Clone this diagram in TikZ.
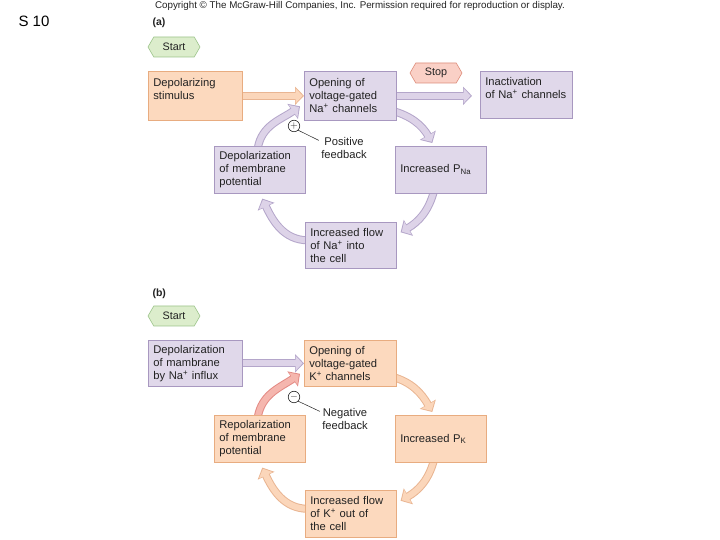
\documentclass[tikz,border=0pt]{standalone}
\usepackage{fontspec}
\setmainfont{Liberation Sans}
\usetikzlibrary{shapes.symbols,arrows.meta,calc}
\definecolor{lavF}{HTML}{E0D8EA}
\definecolor{lavB}{HTML}{A898C0}
\definecolor{peaF}{HTML}{FCD9BE}
\definecolor{peaB}{HTML}{E8AC80}
\definecolor{grnF}{HTML}{DCEDCC}
\definecolor{grnB}{HTML}{9CC48A}
\definecolor{stpF}{HTML}{FAD0C6}
\definecolor{stpB}{HTML}{DD8C7A}
\definecolor{arLF}{HTML}{DDD3E8}
\definecolor{arLB}{HTML}{B4A6CA}
\definecolor{arPF}{HTML}{FBD6BA}
\definecolor{arPB}{HTML}{E9B592}
\definecolor{arRF}{HTML}{F5B6AE}
\definecolor{arRB}{HTML}{E38A84}
\definecolor{txt}{HTML}{222222}
\pgfdeclarelayer{bg}
\pgfsetlayers{bg,main}
\newcommand{\fatarr}[3]{%
  \draw[line width=8pt,#1,-{Triangle[width=18pt,length=9pt]}] #3;
  \draw[line width=6pt,#2,shorten >=1.4pt,-{Triangle[width=14.5pt,length=7pt]}] #3;
}
\tikzset{
  box/.style={draw, line width=0.6pt, anchor=north west, inner xsep=5pt, inner ysep=3pt,
    align=left, font=\fontsize{11.2}{13}\selectfont, text=txt},
  lav/.style={box, fill=lavF, draw=lavB},
  pea/.style={box, fill=peaF, draw=peaB},
  hexa/.style={signal, signal to=east and west, signal pointer angle=120,
    minimum width=52pt, minimum height=20pt, inner sep=0pt,
    font=\fontsize{10.8}{12}\selectfont, text=txt, line width=0.6pt},
  fbsign/.style={circle, draw=txt, line width=0.6pt, inner sep=0pt, minimum size=11.5pt, text=txt},
  fblabel/.style={align=center, font=\fontsize{11.2}{13}\selectfont, text=txt},
  fbline/.style={draw=txt, line width=0.5pt}
}
\begin{document}
\begin{tikzpicture}[x=1pt,y=1pt]
\useasboundingbox (0,0) rectangle (720,540);
% headers
\node[anchor=base west, font=\fontsize{15}{15}\selectfont] (slide) at (15,513) {S 10};
\node[font=\fontsize{9.8}{11}\selectfont, text=txt] (copy) at (360,534) {Copyright © The McGraw-Hill Companies, Inc. Permission required for reproduction or display.};
\node[anchor=base west, font=\fontsize{10.5}{11}\bfseries, text=txt] (la) at (149,514) {(a)};
\node[anchor=base west, font=\fontsize{10.5}{11}\bfseries, text=txt] (lb) at (149,243) {(b)};

% ---------- (a) ----------
\node[hexa, fill=grnF, draw=grnB] (startA) at (174,493) {Start};
\node[pea, text width=84pt, minimum height=49pt] (dep) at (148,469) {Depolarizing\\stimulus\\~};
\node[lav, text width=82pt, minimum height=49pt] (open) at (304,469) {Opening of\\voltage-gated\\Na\textsuperscript{+} channels};
\node[hexa, fill=stpF, draw=stpB] (stop) at (436,467) {Stop};
\node[lav, text width=82pt, inner xsep=5pt, minimum height=47pt] (inact) at (480,469) {Inactivation\\of Na\textsuperscript{+} channels\\~};
\node[lav, text width=81pt, minimum height=47pt] (incp) at (395,394) {Increased P\textsubscript{Na}};
\node[lav, text width=81pt, minimum height=47pt] (depm) at (214,394) {Depolarization\\of membrane\\potential};
\node[lav, text width=81pt, minimum height=46pt] (flow) at (305,318) {Increased flow\\of Na\textsuperscript{+} into\\the cell};
\node[fbsign] (plusA) at (294,414) {$+$};
\node[fblabel] (posA) at (344,391.5) {Positive\\feedback};
\draw[fbline] (plusA.south east) -- ($(posA.north west)+(1,-6)$);

\begin{pgfonlayer}{bg}
\fatarr{arPB}{arPF}{(dep.east) -- (open.west)}
\fatarr{arLB}{arLF}{(open.east) -- ($(inact.west |- open.east)+(-8,0)$)}
\fatarr{arLB}{arLF}{($(open.south east)+(-5,10)$) to[out=-15,in=120] ($(incp.north)+(-8.5,3)$)}
\fatarr{arLB}{arLF}{($(incp.south)+(-7,2)$) to[out=-105,in=30] ($(flow.east)+(4,13)$)}
\fatarr{arLB}{arLF}{($(flow.west)+(3,5)$) to[out=180,in=-65] ($(depm.south)+(2.5,-5)$)}
\fatarr{arLB}{arLF}{($(depm.north)+(-2,-2)$) to[out=80,in=215] ($(open.west)+(-4,-10.5)$)}
\end{pgfonlayer}

% ---------- (b) ----------
\node[hexa, fill=grnF, draw=grnB] (startB) at (174,224) {Start};
\node[lav, text width=84pt, minimum height=46pt] (depB) at (148,200) {Depolarization\\of mambrane\\by Na\textsuperscript{+} influx};
\node[pea, text width=82pt, minimum height=46pt] (openB) at (304,200) {Opening of\\voltage-gated\\K\textsuperscript{+} channels};
\node[pea, text width=81pt, minimum height=47pt] (incpK) at (395,125) {Increased P\textsubscript{K}};
\node[pea, text width=81pt, minimum height=47pt] (repol) at (214,125) {Repolarization\\of membrane\\potential};
\node[pea, text width=81pt, minimum height=47pt] (flowK) at (305,50) {Increased flow\\of K\textsuperscript{+} out of\\the cell};
\node[fbsign] (minusB) at (294,143) {$-$};
\node[fblabel] (negB) at (345,120.5) {Negative\\feedback};
\draw[fbline] (minusB.south east) -- ($(negB.north west)+(1,-6)$);

\begin{pgfonlayer}{bg}
\fatarr{arLB}{arLF}{(depB.east) -- (openB.west)}
\fatarr{arPB}{arPF}{($(openB.south east)+(-5,10)$) to[out=-15,in=120] ($(incpK.north)+(-8.5,3)$)}
\fatarr{arPB}{arPF}{($(incpK.south)+(-7,2)$) to[out=-105,in=30] ($(flowK.east)+(4,13)$)}
\fatarr{arPB}{arPF}{($(flowK.west)+(3,5)$) to[out=180,in=-65] ($(repol.south)+(2.5,-5)$)}
\fatarr{arRB}{arRF}{($(repol.north)+(-2,-2)$) to[out=80,in=215] ($(openB.west)+(-4,-10.5)$)}
\end{pgfonlayer}
\end{tikzpicture}
\end{document}
